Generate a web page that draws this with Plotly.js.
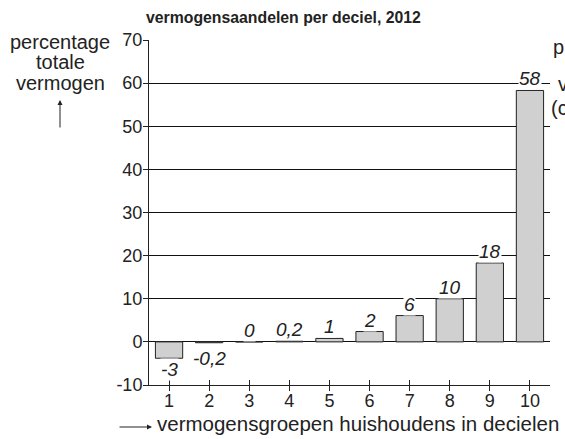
<!DOCTYPE html>
<html><head><meta charset="utf-8">
<script src="https://cdn.plot.ly/plotly-3.0.1.min.js"></script>
<style>body{margin:0;background:#fff}#c{width:565px;height:439px}</style>
</head><body><div id="c"></div>
<script>
const deciles = [1,2,3,4,5,6,7,8,9,10];
const shares = [-3.8,-0.2,0,0.2,0.8,2.4,6.1,10,18.3,58.3];
const shareLabels = ["-3","-0,2","0","0,2","1","2","6","10","18","58"];
const yTicks = [-10,0,10,20,30,40,50,60,70];
const yTickText = ["-10","0","10","20","30","40","50","60","70"];
const titleText = "vermogensaandelen per deciel, 2012";
const yTitleLines = ["percentage","totale","vermogen"];
const xTitleText = "vermogensgroepen huishoudens in decielen";
const cutTexts = ["p","v","(c"];

const F = "Liberation Sans, Arial, sans-serif";
const ink = "#222";
const annotations = deciles.map((d,i)=>({
  x:d, xref:'x', yref:'y',
  y: shares[i],
  text:shareLabels[i], showarrow:false,
  yanchor: shares[i] < 0 ? 'top':'bottom',
  yshift: shares[i] < 0 ? (shares[i] > -1 ? -4 : 0) : 0,
  bgcolor:'#fff', borderpad:0,
  font:{family:F,size:19,color:ink,style:'italic'}
}));
annotations.push({xref:'paper',yref:'paper',x:0,y:1,xshift:134,yshift:23,yanchor:'middle',xanchor:'center',
  text:'<b>'+titleText+'</b>',showarrow:false,font:{family:F,size:15.8,color:ink}});
const yShifts=[-2,-22,-43];
yTitleLines.forEach((t,i)=>annotations.push({xref:'paper',yref:'paper',x:0,y:1,xshift:-89,yshift:yShifts[i],
  xanchor:'center',yanchor:'middle',text:t,showarrow:false,font:{family:F,size:20,color:ink}}));
annotations.push({xref:'paper',yref:'paper',x:0,y:1,xshift:-89,yshift:-60,ax:0,ay:29,
  text:'',showarrow:true,arrowhead:2,arrowsize:1,arrowwidth:1,arrowcolor:ink});
annotations.push({xref:'paper',yref:'paper',x:0,y:0,xshift:6,yshift:-38,xanchor:'left',yanchor:'middle',
  text:xTitleText,showarrow:false,font:{family:F,size:20.5,color:ink}});
annotations.push({xref:'paper',yref:'paper',x:0,y:0,xshift:3,yshift:-42,ax:-34,ay:0,
  text:'',showarrow:true,arrowhead:2,arrowsize:1,arrowwidth:1,arrowcolor:ink});
const cutX=[1,6,-1], cutY=[-7,-44,-68];
cutTexts.forEach((t,i)=>annotations.push({xref:'paper',yref:'paper',
  x:1,y:1,xshift:cutX[i],yshift:cutY[i],xanchor:'left',yanchor:'middle',text:t,showarrow:false,font:{family:F,size:20,color:ink}}));

Plotly.newPlot('c',[{
  type:'bar', x:deciles, y:shares, width:0.68,
  marker:{color:'#d0d0d0',line:{color:'#222',width:1}},
  hoverinfo:'none'
},{
  type:'scatter', x:deciles, y:shares.map(()=>null), xaxis:'x2', yaxis:'y', hoverinfo:'none', showlegend:false
}],{
  width:565,height:439,
  margin:{l:149,r:15,t:40,b:53.5},
  showlegend:false,
  paper_bgcolor:'#fff',plot_bgcolor:'#fff',
  xaxis:{range:[0.5,10.5],tickvals:deciles,ticks:'outside',ticklen:5,tickcolor:ink,ticklabelstandoff:-6,
    showgrid:false,zeroline:false,showline:true,linecolor:ink,linewidth:1,
    tickfont:{family:F,size:18,color:ink},fixedrange:true},
  xaxis2:{range:[0.5,10.5],overlaying:'x',tickvals:deciles,ticks:'inside',ticklen:5,tickcolor:ink,
    showticklabels:false,showgrid:false,zeroline:false,showline:false,anchor:'y',side:'bottom'},
  yaxis:{range:[-10,70],tickvals:yTicks,ticktext:yTickText,ticks:'outside',ticklen:5,tickcolor:ink,ticklabelstandoff:-3,
    showgrid:true,gridcolor:'#111',gridwidth:1,zeroline:true,zerolinecolor:'#111',zerolinewidth:1,
    showline:true,linecolor:ink,linewidth:1,tickfont:{family:F,size:18,color:ink},fixedrange:true},
  annotations:annotations
},{displayModeBar:false,staticPlot:true});
</script></body></html>
